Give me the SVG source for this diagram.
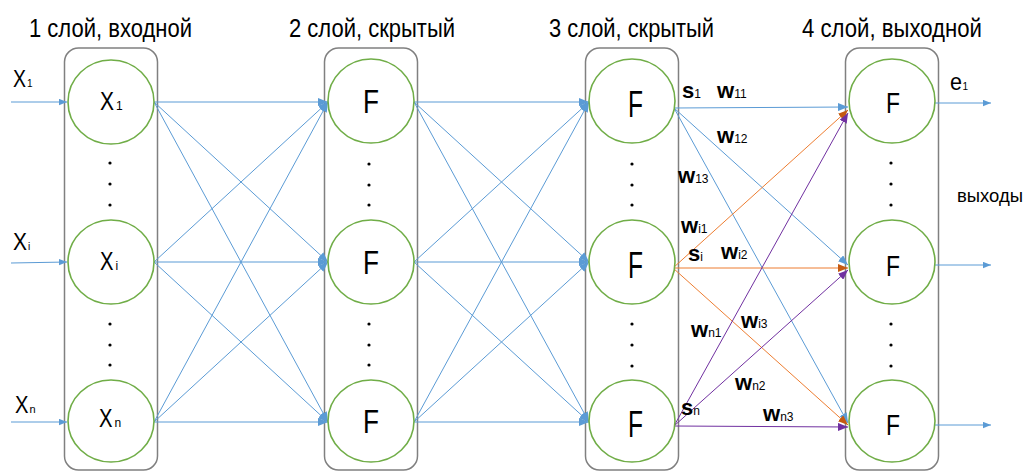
<svg xmlns="http://www.w3.org/2000/svg" width="1027" height="472" viewBox="0 0 1027 472">
<style>
.box{fill:none;stroke:#808080;stroke-width:1.5}
.nd{fill:#fff;stroke:#70AD47;stroke-width:1.6}
.t{font-family:"Liberation Sans",Arial,sans-serif;fill:#000}
.ttl{font-size:25px}
.bl{stroke:#5B9BD5;stroke-width:1;fill:none}
.or{stroke:#ED7D31;stroke-width:1;fill:none}
.pu{stroke:#7030A0;stroke-width:1;fill:none}
.w{font-family:"Liberation Sans",Arial,sans-serif;font-size:22px;font-weight:bold;fill:#000}
.sb{font-size:12px;font-weight:normal}
.dot{fill:#000}
</style>
<defs>
<marker id="ab" viewBox="0 0 10 8" refX="10" refY="4" markerWidth="10" markerHeight="8" markerUnits="userSpaceOnUse" orient="auto"><path d="M0,0 L10,4 L0,8 z" fill="#5B9BD5"/></marker>
<marker id="as" viewBox="0 0 10 8" refX="10" refY="4" markerWidth="8" markerHeight="7" markerUnits="userSpaceOnUse" orient="auto"><path d="M0,0 L10,4 L0,8 z" fill="#5B9BD5"/></marker>
<marker id="ao" viewBox="0 0 10 8" refX="10" refY="4" markerWidth="10" markerHeight="8" markerUnits="userSpaceOnUse" orient="auto"><path d="M0,0 L10,4 L0,8 z" fill="#C55A11"/></marker>
<marker id="ap" viewBox="0 0 10 8" refX="10" refY="4" markerWidth="10" markerHeight="8" markerUnits="userSpaceOnUse" orient="auto"><path d="M0,0 L10,4 L0,8 z" fill="#7030A0"/></marker>
</defs>

<g id="titles" class="t ttl">
<text x="29" y="37" textLength="163" lengthAdjust="spacingAndGlyphs">1 слой, входной</text>
<text x="289" y="37" textLength="166" lengthAdjust="spacingAndGlyphs">2 слой, скрытый</text>
<text x="549" y="37" textLength="165" lengthAdjust="spacingAndGlyphs">3 слой, скрытый</text>
<text x="802" y="37" textLength="180" lengthAdjust="spacingAndGlyphs">4 слой, выходной</text>
</g>

<g id="layer-boxes">
<rect class="box" x="64.5" y="48" width="93" height="422" rx="14"/>
<rect class="box" x="324.5" y="48" width="93" height="422" rx="14"/>
<rect class="box" x="585.5" y="48" width="93" height="422" rx="14"/>
<rect class="box" x="845.5" y="48" width="93" height="422" rx="14"/>
</g>

<g id="connectors">
<line class="bl" x1="11" y1="102" x2="67" y2="102" marker-end="url(#as)"/>
<line class="bl" x1="11" y1="263" x2="67" y2="262" marker-end="url(#as)"/>
<line class="bl" x1="11" y1="422" x2="67" y2="422" marker-end="url(#as)"/>
<line class="bl" x1="154" y1="102" x2="328" y2="102" marker-end="url(#ab)"/>
<line class="bl" x1="154" y1="102" x2="328" y2="262" marker-end="url(#ab)"/>
<line class="bl" x1="154" y1="102" x2="328" y2="422" marker-end="url(#ab)"/>
<line class="bl" x1="154" y1="262" x2="328" y2="102" marker-end="url(#ab)"/>
<line class="bl" x1="154" y1="262" x2="328" y2="262" marker-end="url(#ab)"/>
<line class="bl" x1="154" y1="262" x2="328" y2="422" marker-end="url(#ab)"/>
<line class="bl" x1="154" y1="422" x2="328" y2="102" marker-end="url(#ab)"/>
<line class="bl" x1="154" y1="422" x2="328" y2="262" marker-end="url(#ab)"/>
<line class="bl" x1="154" y1="422" x2="328" y2="422" marker-end="url(#ab)"/>
<line class="bl" x1="414" y1="102" x2="589" y2="102" marker-end="url(#ab)"/>
<line class="bl" x1="414" y1="102" x2="589" y2="262" marker-end="url(#ab)"/>
<line class="bl" x1="414" y1="102" x2="589" y2="422" marker-end="url(#ab)"/>
<line class="bl" x1="414" y1="262" x2="589" y2="102" marker-end="url(#ab)"/>
<line class="bl" x1="414" y1="262" x2="589" y2="262" marker-end="url(#ab)"/>
<line class="bl" x1="414" y1="262" x2="589" y2="422" marker-end="url(#ab)"/>
<line class="bl" x1="414" y1="422" x2="589" y2="102" marker-end="url(#ab)"/>
<line class="bl" x1="414" y1="422" x2="589" y2="262" marker-end="url(#ab)"/>
<line class="bl" x1="414" y1="422" x2="589" y2="422" marker-end="url(#ab)"/>
<line class="bl" x1="674" y1="108" x2="848" y2="107" marker-end="url(#ab)"/>
<line class="bl" x1="674" y1="108" x2="848" y2="265" marker-end="url(#ab)"/>
<line class="bl" x1="674" y1="108" x2="848" y2="423" marker-end="url(#ab)"/>
<line class="or" x1="673" y1="268" x2="848" y2="110" marker-end="url(#ao)"/>
<line class="or" x1="673" y1="268" x2="848" y2="268" marker-end="url(#ao)"/>
<line class="or" x1="673" y1="268" x2="848" y2="425" marker-end="url(#ao)"/>
<line class="pu" x1="674" y1="426" x2="848" y2="113" marker-end="url(#ap)"/>
<line class="pu" x1="674" y1="426" x2="848" y2="270" marker-end="url(#ap)"/>
<line class="pu" x1="674" y1="426" x2="848" y2="427" marker-end="url(#ap)"/>
<line class="bl" x1="935" y1="103" x2="991" y2="103" marker-end="url(#as)"/>
<line class="bl" x1="935" y1="265" x2="991" y2="265" marker-end="url(#as)"/>
<line class="bl" x1="935" y1="425" x2="991" y2="425" marker-end="url(#as)"/>
</g>

<g id="input-labels" class="t">
<text x="13" y="87" font-size="24" textLength="13" lengthAdjust="spacingAndGlyphs">X</text><text x="27" y="87" font-size="10">1</text>
<text x="13" y="250" font-size="24" textLength="14" lengthAdjust="spacingAndGlyphs">X</text><text x="28" y="250" font-size="10">i</text>
<text x="15" y="413" font-size="24" textLength="13.5" lengthAdjust="spacingAndGlyphs">X</text><text x="29.5" y="413" font-size="11">n</text>
</g>

<g id="n1-1"><ellipse class="nd" cx="111" cy="102" rx="43" ry="42"/><text class="t" x="100" y="110" font-size="25" textLength="14" lengthAdjust="spacingAndGlyphs">X</text><text class="t" x="116" y="110" font-size="12">1</text></g>
<g id="n1-i"><ellipse class="nd" cx="111" cy="262" rx="43" ry="42"/><text class="t" x="100" y="270" font-size="25" textLength="13.5" lengthAdjust="spacingAndGlyphs">X</text><text class="t" x="115.5" y="270" font-size="12">i</text></g>
<g id="n1-n"><ellipse class="nd" cx="111" cy="421" rx="43" ry="41"/><text class="t" x="99" y="427" font-size="25" textLength="13.5" lengthAdjust="spacingAndGlyphs">X</text><text class="t" x="114.5" y="427" font-size="12">n</text></g>

<g id="n2-1"><ellipse class="nd" cx="371" cy="101" rx="43" ry="42"/><text class="t" x="363" y="113" font-size="33" textLength="16" lengthAdjust="spacingAndGlyphs">F</text></g>
<g id="n2-i"><ellipse class="nd" cx="371" cy="262" rx="43" ry="42"/><text class="t" x="363" y="274" font-size="33" textLength="16" lengthAdjust="spacingAndGlyphs">F</text></g>
<g id="n2-n"><ellipse class="nd" cx="371" cy="421" rx="43" ry="41"/><text class="t" x="363" y="433" font-size="33" textLength="16" lengthAdjust="spacingAndGlyphs">F</text></g>

<g id="n3-1"><ellipse class="nd" cx="632" cy="101" rx="43" ry="42"/><text class="t" x="628" y="117" font-size="36" textLength="15" lengthAdjust="spacingAndGlyphs">F</text></g>
<g id="n3-i"><ellipse class="nd" cx="632" cy="262" rx="43" ry="42"/><text class="t" x="628" y="278" font-size="36" textLength="15" lengthAdjust="spacingAndGlyphs">F</text></g>
<g id="n3-n"><ellipse class="nd" cx="632" cy="421" rx="43" ry="41"/><text class="t" x="628" y="437" font-size="36" textLength="15" lengthAdjust="spacingAndGlyphs">F</text></g>

<g id="n4-1"><ellipse class="nd" cx="892" cy="101" rx="43" ry="42"/><text class="t" x="886" y="113" font-size="30" textLength="14" lengthAdjust="spacingAndGlyphs">F</text></g>
<g id="n4-i"><ellipse class="nd" cx="892" cy="262" rx="43" ry="42"/><text class="t" x="886" y="276" font-size="30" textLength="14" lengthAdjust="spacingAndGlyphs">F</text></g>
<g id="n4-n"><ellipse class="nd" cx="892" cy="421" rx="43" ry="41"/><text class="t" x="886" y="435" font-size="30" textLength="14" lengthAdjust="spacingAndGlyphs">F</text></g>

<g id="dots">
<circle class="dot" cx="110" cy="163" r="1.6"/><circle class="dot" cx="110" cy="184" r="1.6"/><circle class="dot" cx="110" cy="205" r="1.6"/>
<circle class="dot" cx="110" cy="324" r="1.6"/><circle class="dot" cx="110" cy="345" r="1.6"/><circle class="dot" cx="110" cy="365" r="1.6"/>
<circle class="dot" cx="369" cy="164" r="1.6"/><circle class="dot" cx="369" cy="185" r="1.6"/><circle class="dot" cx="369" cy="205" r="1.6"/>
<circle class="dot" cx="369" cy="324" r="1.6"/><circle class="dot" cx="369" cy="345" r="1.6"/><circle class="dot" cx="369" cy="365" r="1.6"/>
<circle class="dot" cx="632" cy="164" r="1.6"/><circle class="dot" cx="632" cy="185" r="1.6"/><circle class="dot" cx="632" cy="205" r="1.6"/>
<circle class="dot" cx="632" cy="324" r="1.6"/><circle class="dot" cx="632" cy="345" r="1.6"/><circle class="dot" cx="632" cy="366" r="1.6"/>
<circle class="dot" cx="891" cy="163" r="1.6"/><circle class="dot" cx="891" cy="184" r="1.6"/><circle class="dot" cx="891" cy="205" r="1.6"/>
<circle class="dot" cx="891" cy="324" r="1.6"/><circle class="dot" cx="891" cy="345" r="1.6"/><circle class="dot" cx="891" cy="366" r="1.6"/>
</g>

<g id="weight-labels">
<text class="w" x="682" y="98">s<tspan class="sb">1</tspan></text>
<text class="w" x="717" y="98">w<tspan class="sb">11</tspan></text>
<text class="w" x="717" y="143">w<tspan class="sb">12</tspan></text>
<text class="w" x="678" y="183">w<tspan class="sb">13</tspan></text>
<text class="w" x="681" y="233">w<tspan class="sb">i1</tspan></text>
<text class="w" x="688" y="261">s<tspan class="sb">i</tspan></text>
<text class="w" x="721" y="259">w<tspan class="sb">i2</tspan></text>
<text class="w" x="741" y="328">w<tspan class="sb">i3</tspan></text>
<text class="w" x="691" y="337">w<tspan class="sb">n1</tspan></text>
<text class="w" x="735" y="390">w<tspan class="sb">n2</tspan></text>
<text class="w" x="681" y="415">s<tspan class="sb">n</tspan></text>
<text class="w" x="763" y="421">w<tspan class="sb">n3</tspan></text>
</g>

<g id="output-labels" class="t">
<text x="950" y="90" font-size="23" textLength="12" lengthAdjust="spacingAndGlyphs">e</text><text x="962.5" y="90" font-size="10">1</text>
<text x="957" y="202" font-size="19" textLength="66" lengthAdjust="spacingAndGlyphs">выходы</text>
</g>
</svg>
